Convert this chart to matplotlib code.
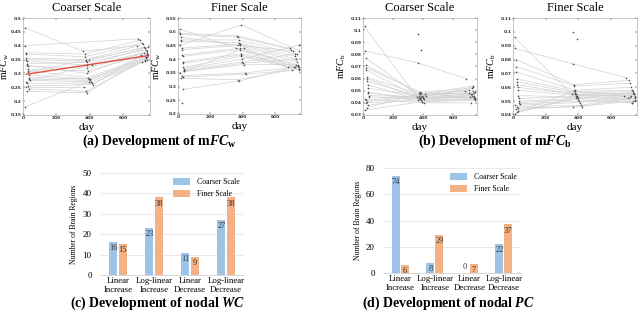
import numpy as np
import matplotlib.pyplot as plt

plt.rcParams['font.family'] = ['Liberation Serif', 'DejaVu Serif']
plt.rcParams['mathtext.fontset'] = 'custom'
plt.rcParams['mathtext.rm'] = 'Liberation Serif'
plt.rcParams['mathtext.it'] = 'Liberation Serif:italic'
plt.rcParams['mathtext.bf'] = 'Liberation Serif:bold'
plt.rcParams['mathtext.bfit'] = 'Liberation Serif:bold:italic'

nan = np.nan

# scan days of each subject (three visits)
day1 = [10, 12, 15, 18, 20, 20, 22, 25, 25, 28, 30, 30, 32, 35, 35, 38, 40, 15, 22, 28, 18, 33, 26, 12]
day2 = [360, 365, 370, 372, 375, 378, 380, 380, 382, 385, 388, 390, 392, 395, 398, 400, 405, 410, 415, 420, 368, 376, 384, 392]
day3 = [680, 690, 700, 710, 720, 725, 730, 735, 740, 742, 745, 748, 750, 745, 738, 732, 728, 722, 715, 705, 748, 740, 735, 750]

# mFC_w, coarser scale
wc1 = [0.465, 0.40, 0.375, 0.37, 0.355, 0.35, 0.345, 0.335, 0.33, 0.325, 0.315, 0.31, 0.305, 0.295, 0.285, 0.28, 0.275, 0.27, 0.265, 0.255, 0.25, 0.245, 0.235, 0.18]
wc2 = [0.38, nan, 0.37, 0.36, 0.35, 0.345, 0.33, 0.34, 0.30, 0.32, 0.31, 0.285, 0.35, 0.28, 0.28, 0.275, 0.27, 0.33, 0.265, 0.26, 0.25, 0.235, 0.23, 0.27]
wc3 = [0.40, 0.425, 0.42, 0.41, 0.405, 0.395, 0.39, 0.385, 0.38, 0.375, 0.37, 0.365, 0.395, 0.36, 0.355, 0.35, 0.345, 0.375, 0.34, 0.365, nan, 0.35, 0.36, nan]
# mFC_w, finer scale
wf1 = [0.51, 0.495, 0.49, 0.48, 0.47, 0.465, 0.44, 0.435, 0.415, 0.41, 0.39, 0.385, 0.37, 0.365, 0.36, 0.355, 0.355, 0.35, 0.34, 0.335, 0.33, 0.29, 0.24, 0.45]
wf2 = [0.44, 0.485, 0.48, 0.45, 0.47, 0.46, 0.455, 0.45, 0.44, 0.435, 0.42, 0.415, 0.41, 0.40, 0.39, 0.385, 0.38, 0.44, 0.35, 0.345, 0.325, 0.32, nan, 0.525]
wf3 = [0.37, 0.44, 0.435, 0.43, 0.42, 0.41, 0.40, 0.39, 0.38, 0.375, 0.37, 0.365, 0.36, 0.45, 0.42, 0.40, 0.38, 0.37, 0.37, 0.36, 0.365, 0.375, nan, 0.43]
# mFC_b, coarser scale
bc1 = [0.103, 0.083, nan, 0.077, 0.071, 0.069, 0.067, 0.061, 0.060, 0.058, 0.055, nan, 0.052, 0.049, 0.048, 0.046, 0.045, 0.043, 0.042, 0.041, 0.040, 0.038, 0.036, 0.034]
bc2 = [0.045, 0.073, 0.097, 0.046, 0.048, 0.049, 0.044, 0.047, 0.043, 0.045, 0.042, 0.084, 0.046, 0.041, 0.044, 0.045, 0.043, 0.040, 0.047, 0.046, 0.042, 0.044, 0.048, 0.041]
bc3 = [0.050, 0.060, nan, 0.048, 0.047, 0.052, 0.046, 0.054, 0.045, 0.044, 0.043, nan, 0.049, 0.042, 0.046, 0.053, 0.047, 0.040, 0.045, 0.051, 0.044, 0.048, 0.050, 0.043]
# mFC_b, finer scale
bf1 = [0.096, 0.088, nan, 0.080, 0.075, 0.071, 0.066, 0.064, 0.062, 0.060, 0.058, nan, 0.054, 0.052, 0.050, 0.049, 0.048, 0.047, 0.046, 0.045, 0.044, 0.043, 0.042, 0.041]
bf2 = [0.055, 0.077, 0.100, 0.062, 0.061, 0.058, 0.057, 0.056, 0.055, 0.055, 0.054, 0.095, 0.053, 0.053, 0.052, 0.051, 0.050, 0.049, 0.047, 0.046, 0.046, 0.057, 0.052, 0.054]
bf3 = [0.054, 0.067, nan, 0.065, 0.063, 0.060, 0.058, 0.057, 0.056, 0.055, 0.054, nan, 0.052, 0.051, 0.050, 0.049, 0.049, 0.054, 0.053, 0.052, 0.050, 0.055, 0.056, 0.053]

# bar charts
categories = ['Linear\nIncrease', 'Log-linear\nIncrease', 'Linear\nDecrease', 'Log-linear\nDecrease']
wc_coarse = [16, 23, 11, 27]
wc_fine = [15, 38, 9, 38]
pc_coarse = [74, 8, 0, 22]
pc_fine = [6, 29, 7, 37]

W, H = 640, 318
fig = plt.figure(figsize=(6.4, 3.18), dpi=100)


def px_axes(l, t, r, b):
    return fig.add_axes([l / W, 1 - b / H, (r - l) / W, (b - t) / H])


def scatter_panel(ax, v1, v2, v3, ylim, yticks, ylab, title, fit=False, lab_off=15):
    days = np.array([day1, day2, day3]).T
    vals = np.array([v1, v2, v3]).T
    for d, v in zip(days, vals):
        ok = ~np.isnan(v)
        ax.plot(d[ok], v[ok], color='#d2d2d2', lw=0.5, zorder=1)
    ok = ~np.isnan(vals)
    ax.scatter(days[ok], vals[ok], s=1.4, color='#4d4d4d', zorder=3, linewidths=0)
    if fit:
        k, c = np.polyfit(days[ok], vals[ok], 1)
        xs = np.array([20, 750])
        ax.plot(xs, k * xs + c, color='#e0533a', lw=1.0, zorder=2)
    ax.set_xlim(0, 760)
    ax.set_ylim(*ylim)
    ax.set_xticks([0, 200, 400, 600])
    ax.set_yticks(yticks)
    ax.set_yticklabels([('%g' % t) for t in yticks])
    ax.tick_params(labelsize=3.2, length=1.2, width=0.3, direction='in', pad=1,
                   top=True, right=True)
    for lab in ax.get_xticklabels() + ax.get_yticklabels():
        lab.set_fontweight('bold')
        lab.set_family('DejaVu Sans')
        lab.set_color('#333333')
    for s in ax.spines.values():
        s.set_linewidth(0.4)
        s.set_color('#999999')
    ax.set_xlabel('day', fontsize=8, labelpad=2)
    ax.set_ylabel(ylab, fontsize=7.2)
    w = ax.get_position().width * W
    ax.yaxis.set_label_coords(-lab_off / w, 0.5)
    ax.set_title(title, fontsize=9, pad=5)


ax = px_axes(23, 18, 150, 115)
scatter_panel(ax, wc1, wc2, wc3, (0.15, 0.5), [0.15, 0.2, 0.25, 0.3, 0.35, 0.4, 0.45, 0.5],
              r'm$\mathit{FC}_{\mathrm{w}}$', 'Coarser Scale', fit=True, lab_off=12)
ax = px_axes(178, 18, 301, 114)
scatter_panel(ax, wf1, wf2, wf3, (0.2, 0.55), [0.2, 0.25, 0.3, 0.35, 0.4, 0.45, 0.5, 0.55],
              r'm$\mathit{FC}_{\mathrm{w}}$', 'Finer Scale')
ax = px_axes(363, 18, 477, 115)
scatter_panel(ax, bc1, bc2, bc3, (0.03, 0.11), [0.03, 0.04, 0.05, 0.06, 0.07, 0.08, 0.09, 0.1, 0.11],
              r'm$\mathit{FC}_{\mathrm{b}}$', 'Coarser Scale')
ax = px_axes(513, 18, 637, 115)
scatter_panel(ax, bf1, bf2, bf3, (0.04, 0.11), [0.04, 0.05, 0.06, 0.07, 0.08, 0.09, 0.1, 0.11],
              r'm$\mathit{FC}_{\mathrm{b}}$', 'Finer Scale')


def bar_panel(ax, coarse, fine, ymax, step):
    x = np.arange(len(categories))
    w = 0.22
    b1 = ax.bar(x - 0.13, coarse, w, color='#9dc3e6', label='Coarser Scale', zorder=2)
    b2 = ax.bar(x + 0.13, fine, w, color='#f4b183', label='Finer Scale', zorder=2)
    for bars, vals in ((b1, coarse), (b2, fine)):
        for r, v in zip(bars, vals):
            xc = r.get_x() + r.get_width() / 2
            if v == 0:
                ax.text(xc, ymax * 0.02, str(v), ha='center', va='bottom',
                        fontsize=6, color='#333333', zorder=3)
            else:
                ax.text(xc, v - ymax * 0.02, str(v), ha='center', va='top',
                        fontsize=6, color='#333333', zorder=3)
    ax.set_xlim(-0.5, 3.5)
    ax.set_ylim(0, ymax)
    ax.set_yticks(np.arange(0, ymax + 1, step))
    ax.set_xticks(x)
    ax.set_xticklabels(categories, fontsize=6.3, linespacing=1.1)
    ax.tick_params(axis='y', labelsize=6.5, length=0, pad=6)
    ax.tick_params(axis='x', length=0, pad=1.5)
    ax.grid(axis='y', color='#e6e6e6', lw=0.6, zorder=0)
    for s in ('top', 'right', 'left'):
        ax.spines[s].set_visible(False)
    ax.spines['bottom'].set_color('#d0d0d0')
    ax.spines['bottom'].set_linewidth(0.6)
    ax.set_ylabel('Number of Brain Regions', fontsize=5.5, labelpad=3)
    ax.legend(loc='upper right', fontsize=5.6, frameon=False, handlelength=2.2,
              handleheight=1.0, borderaxespad=0.2, labelspacing=0.5)


ax = px_axes(100, 173, 244, 275)
bar_panel(ax, wc_coarse, wc_fine, 50, 10)
ax = px_axes(383, 168, 521, 273)
bar_panel(ax, pc_coarse, pc_fine, 80, 20)

cap = dict(fontsize=10, ha='center', va='center')
fig.text(159 / W, 1 - 141 / H, r'$\mathbf{(a)\ Development\ of\ m}\mathbfit{FC}_{\mathbf{w}}$', **cap)
fig.text(495 / W, 1 - 141 / H, r'$\mathbf{(b)\ Development\ of\ m}\mathbfit{FC}_{\mathbf{b}}$', **cap)
fig.text(158 / W, 1 - 303 / H, r'$\mathbf{(c)\ Development\ of\ nodal\ }\mathbfit{WC}$', **cap)
fig.text(448 / W, 1 - 303 / H, r'$\mathbf{(d)\ Development\ of\ nodal\ }\mathbfit{PC}$', **cap)

fig.savefig('out.png', dpi=100)
